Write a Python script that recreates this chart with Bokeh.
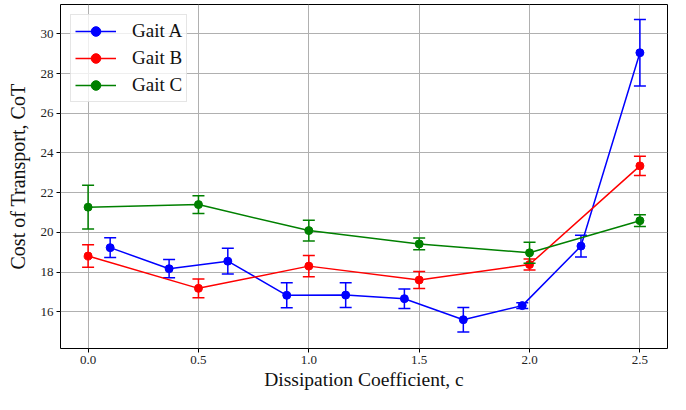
from bokeh.plotting import figure
from bokeh.models import (Range1d, FixedTicker, Legend, LegendItem,
                          ColumnDataSource, NumeralTickFormatter)
from bokeh.embed import file_html
from bokeh.resources import INLINE

# ---------------- data ----------------
gait_a_c = [0.1, 0.367, 0.633, 0.9, 1.167, 1.433, 1.7, 1.967, 2.233, 2.5]
gait_a_cot = [19.23, 18.17, 18.55, 16.83, 16.84, 16.66, 15.60, 16.31, 19.31, 29.05]
gait_a_err = [0.50, 0.46, 0.65, 0.63, 0.62, 0.49, 0.62, 0.15, 0.55, 1.67]

gait_b_c = [0.0, 0.5, 1.0, 1.5, 2.0, 2.5]
gait_b_cot = [18.81, 17.18, 18.30, 17.60, 18.38, 23.35]
gait_b_err = [0.57, 0.47, 0.54, 0.43, 0.28, 0.48]

gait_c_c = [0.0, 0.5, 1.0, 1.5, 2.0, 2.5]
gait_c_cot = [21.27, 21.40, 20.09, 19.42, 18.97, 20.59]
gait_c_err = [1.10, 0.45, 0.52, 0.30, 0.53, 0.30]

series_names = ["Gait A", "Gait B", "Gait C"]
series_colors = ["#0000ff", "#ff0000", "#008000"]

x_ticks = [0.0, 0.5, 1.0, 1.5, 2.0, 2.5]
y_ticks = [16, 18, 20, 22, 24, 26, 28, 30]

x_label = "Dissipation Coefficient, c"
y_label = "Cost of Transport, CoT"

# ---------------- figure ----------------
p = figure(width=670, height=394, output_backend="svg", toolbar_location=None,
           x_range=Range1d(-0.125, 2.625), y_range=Range1d(14.15, 31.48),
           min_border_left=60, min_border_right=3, min_border_top=4,
           min_border_bottom=46)

p.background_fill_color = "white"
p.border_fill_color = "white"
p.outline_line_color = "black"
p.outline_line_width = 1
p.outline_line_alpha = 1

for ax in (p.xaxis, p.yaxis):
    ax.axis_line_color = None
    ax.major_tick_out = 4
    ax.major_tick_in = 0
    ax.minor_tick_line_color = None
    ax.major_tick_line_color = "black"
    ax.major_label_text_font = "Liberation Serif"
    ax.major_label_text_font_size = "13px"
    ax.major_label_text_color = "#222222"
    ax.major_label_standoff = 3
    ax.axis_label_text_font = "Liberation Serif"
    ax.axis_label_text_font_style = "normal"
    ax.axis_label_text_color = "#111111"

p.xaxis.ticker = FixedTicker(ticks=x_ticks)
p.yaxis.ticker = FixedTicker(ticks=y_ticks)
p.xaxis.formatter = NumeralTickFormatter(format="0.0")

p.xaxis.axis_label = x_label
p.xaxis.axis_label_text_font_size = "19.5px"
p.xaxis.axis_label_standoff = 2

p.yaxis.axis_label = y_label
p.yaxis.axis_label_text_font_size = "20px"
p.yaxis.axis_label_standoff = 9

p.xgrid.grid_line_color = "#b0b0b0"
p.ygrid.grid_line_color = "#b0b0b0"
p.xgrid.grid_line_width = 1
p.ygrid.grid_line_width = 1

# ---------------- series ----------------
all_series = [
    (gait_a_c, gait_a_cot, gait_a_err),
    (gait_b_c, gait_b_cot, gait_b_err),
    (gait_c_c, gait_c_cot, gait_c_err),
]

items = []
for (xs, ys, es), name, col in zip(all_series, series_names, series_colors):
    src = ColumnDataSource(dict(
        x=xs, y=ys,
        lo=[y - e for y, e in zip(ys, es)],
        hi=[y + e for y, e in zip(ys, es)],
    ))
    line_r = p.line("x", "y", source=src, line_color=col, line_width=1.5)
    p.segment(x0="x", y0="lo", x1="x", y1="hi", source=src,
              line_color=col, line_width=1.5)
    p.scatter("x", "lo", source=src, marker="dash", size=12,
              line_color=col, line_width=1.5)
    p.scatter("x", "hi", source=src, marker="dash", size=12,
              line_color=col, line_width=1.5)
    pt_r = p.scatter("x", "y", source=src, marker="circle", size=8,
                     fill_color=col, line_color=col)
    items.append(LegendItem(label=name, renderers=[line_r, pt_r]))

legend = Legend(items=items, location="top_left", margin=10,
                label_text_font="Liberation Serif", label_text_font_size="19px",
                label_text_color="#111111",
                glyph_width=41, glyph_height=24, label_height=24,
                spacing=3, padding=4, label_standoff=16,
                border_line_color="#cccccc", border_line_width=1,
                background_fill_color="white", background_fill_alpha=0.8)
p.add_layout(legend)

open("out.html", "w").write(file_html(p, INLINE))
